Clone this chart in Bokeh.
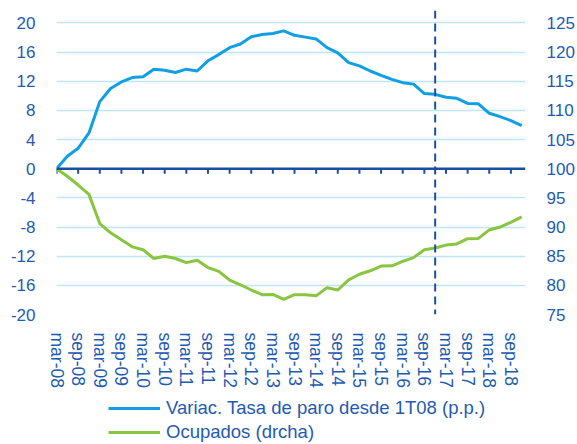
from bokeh.plotting import figure
from bokeh.layouts import column
from bokeh.models import (Range1d, LinearAxis, FixedTicker, Span, Legend, LegendItem,
                          ColumnDataSource)
from bokeh.embed import file_html
from bokeh.resources import INLINE

# ---------------- data ----------------
years = list(range(2008, 2019))
months = ["mar", "jun", "sep", "dic"]
quarters = [f"{m}-{str(y)[2:]}" for y in years for m in months]

paro_var = [0.0, 1.7, 2.8, 4.9, 9.2, 11.0, 11.9, 12.5, 12.6, 13.65,
            13.5, 13.2, 13.65, 13.4, 14.8, 15.65, 16.6, 17.1, 18.1, 18.4,
            18.55, 18.9, 18.3, 18.05, 17.8, 16.6, 15.9, 14.55, 14.1, 13.4,
            12.8, 12.25, 11.8, 11.6, 10.3, 10.2, 9.8, 9.65, 8.95, 8.9,
            7.6, 7.15, 6.6, 5.9]
ocupados = [100.0, 98.7, 97.2, 95.6, 90.6, 89.0, 87.8, 86.6, 86.1, 84.6,
            85.0, 84.6, 83.9, 84.3, 83.05, 82.4, 80.9, 80.1, 79.2, 78.4,
            78.45, 77.6, 78.4, 78.4, 78.2, 79.6, 79.2, 80.95, 81.9, 82.5,
            83.3, 83.35, 84.1, 84.75, 86.1, 86.4, 86.9, 87.1, 88.0, 88.05,
            89.5, 90.0, 90.8, 91.75]
quarters = quarters[:len(paro_var)]
event_quarter = "dic-16"

left_ticks = list(range(-20, 21, 4))
right_ticks = list(range(75, 126, 5))
label_names = ["Variac. Tasa de paro desde 1T08 (p.p.)", "Ocupados (drcha)"]

# ---------------- styling ----------------
TXT = "#1f5bb0"
DARK = "#1a4f9c"
GRID = "#bfe6f6"
BLUE = "#119fe3"
GREEN = "#88c540"
FONT = "Liberation Sans"

Y0, Y1 = -20, 21.7
FRAME_H = 305  # px
tick_len = 5 * (Y1 - Y0) / FRAME_H

idx = list(range(len(quarters)))
src = ColumnDataSource(dict(x=idx, paro=paro_var, ocu=ocupados))

W, H_MAIN, H_LEG = 577, 390, 54
BL, BR = 56, 50
p = figure(width=W, height=H_MAIN, output_backend="svg", toolbar_location=None,
           x_range=Range1d(0, 43.35), y_range=Range1d(Y0, Y1),
           min_border_left=BL, min_border_right=BR, min_border_top=10,
           min_border_bottom=H_MAIN - 10 - FRAME_H,
           x_axis_location=None, y_axis_location=None)
p.outline_line_color = None
p.background_fill_color = "white"
p.border_fill_color = "white"

# right scale: 100 at 0, 1.25 per unit
p.extra_y_ranges = {"r": Range1d(100 + Y0 * 1.25, 100 + Y1 * 1.25)}

def style_axis(ax, size="17px"):
    ax.axis_line_color = None
    ax.major_tick_line_color = None
    ax.minor_tick_line_color = None
    ax.major_label_text_color = TXT
    ax.major_label_text_font = FONT
    ax.major_label_text_font_size = size

ly = LinearAxis(ticker=FixedTicker(ticks=left_ticks),
                major_label_overrides={t: str(t) for t in left_ticks})
style_axis(ly)
ly.major_label_standoff = 15
p.add_layout(ly, "left")

ry = LinearAxis(y_range_name="r", ticker=FixedTicker(ticks=right_ticks),
                major_label_overrides={t: str(t) for t in right_ticks})
style_axis(ry)
ry.major_label_standoff = 15
p.add_layout(ry, "right")

tick_idx = [i for i, q in enumerate(quarters) if q.startswith(("mar", "sep"))]
bx = LinearAxis(ticker=FixedTicker(ticks=tick_idx),
                major_label_overrides={i: quarters[i] for i in tick_idx})
style_axis(bx, "17.5px")
bx.major_label_orientation = "vertical"
bx.major_label_standoff = 12
p.add_layout(bx, "below")

# grid
p.xgrid.visible = False
p.ygrid.ticker = FixedTicker(ticks=[t for t in left_ticks if t != 0])
p.ygrid.grid_line_color = GRID
p.ygrid.grid_line_width = 1.5

ev = quarters.index(event_quarter)
p.add_layout(Span(location=ev, dimension="height", line_color=DARK,
                  line_width=2, line_dash="8 5"))

# zero line with tick marks
p.add_layout(Span(location=0, dimension="width", line_color=DARK, line_width=2.5))
p.segment(x0=tick_idx, y0=[0] * len(tick_idx), x1=tick_idx,
          y1=[-tick_len] * len(tick_idx), line_color=DARK, line_width=2)

p.line("x", "paro", source=src, line_color=BLUE, line_width=3)
p.line("x", "ocu", source=src, y_range_name="r", line_color=GREEN, line_width=3)

# ---------------- legend strip ----------------
q = figure(width=W, height=H_LEG, output_backend="svg", toolbar_location=None,
           x_range=Range1d(0, 1), y_range=Range1d(0, 1),
           min_border_left=BL, min_border_right=BR, min_border_top=3,
           min_border_bottom=0, x_axis_location=None, y_axis_location=None)
q.outline_line_color = None
q.xgrid.visible = False
q.ygrid.visible = False
nan = float("nan")
k1 = q.line(x=[nan], y=[nan], line_color=BLUE, line_width=3)
k2 = q.line(x=[nan], y=[nan], line_color=GREEN, line_width=3)
leg = Legend(items=[LegendItem(label=label_names[0], renderers=[k1]),
                    LegendItem(label=label_names[1], renderers=[k2])],
             location=(52, 1), orientation="vertical")
leg.border_line_color = None
leg.background_fill_alpha = 0
leg.label_text_color = TXT
leg.label_text_font = FONT
leg.label_text_font_size = "18.5px"
leg.glyph_width = 52
leg.glyph_height = 20
leg.label_height = 20
leg.label_standoff = 6
leg.spacing = 2
leg.padding = 0
leg.margin = 0
q.add_layout(leg)

open("out.html", "w").write(file_html(column(p, q, spacing=0), INLINE))
